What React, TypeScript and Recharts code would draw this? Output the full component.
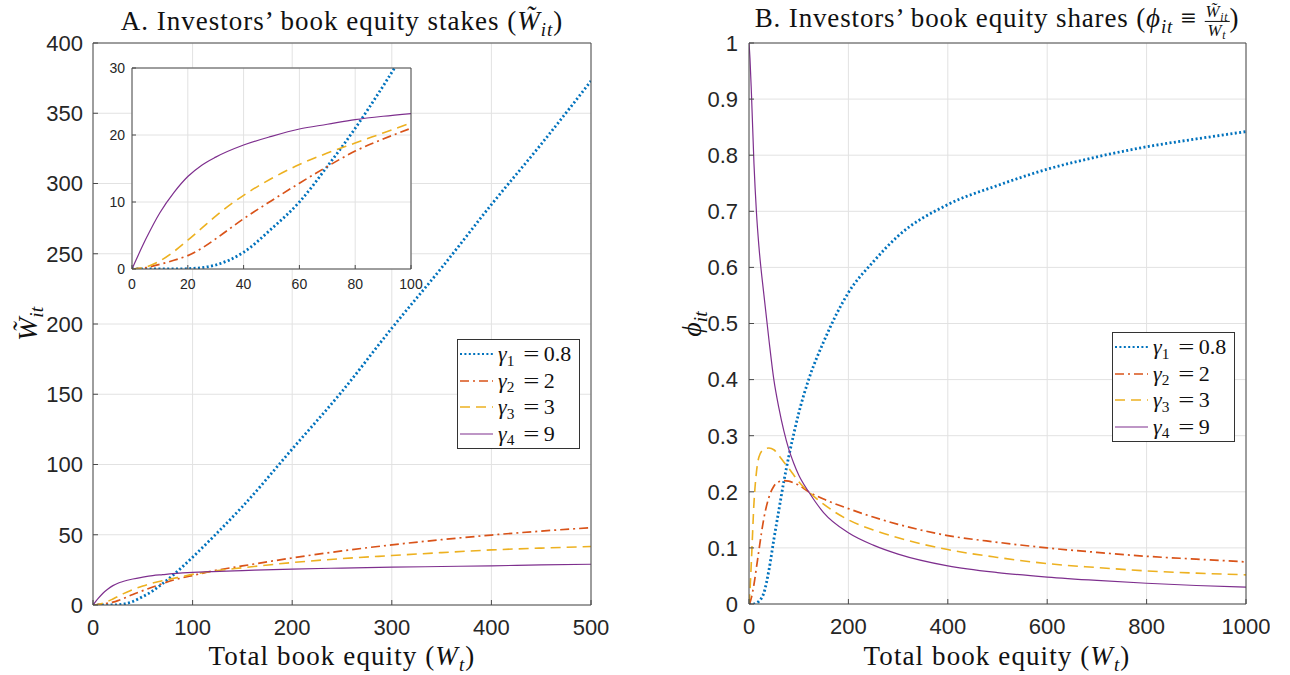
import React from "react";
import { LineChart, Line, XAxis, YAxis, CartesianGrid, Legend } from "recharts";

// Panel A: book equity stakes against total book equity (0..500)
const stakeW = [0, 5, 10, 15, 20, 25, 30, 40, 50, 60, 70, 80, 90, 100, 120, 150, 200, 250, 300, 350, 400, 450, 500];
const stakeG1 = [0, 0, 0, 0, 0.05, 0.2, 0.6, 2.5, 6, 10, 15.3, 21, 27.3, 34, 48, 70, 111, 152, 197, 240, 285, 328, 373];
const stakeG2 = [0, 0.2, 0.7, 1.3, 2, 3.1, 4.5, 7.5, 10.2, 12.8, 15.3, 17.6, 19.4, 21, 24.2, 27.8, 33.5, 38.5, 42.8, 46.5, 49.8, 52.6, 55];
const stakeG3 = [0, 0.3, 1.2, 2.6, 4.3, 6.1, 7.9, 11, 13.5, 15.6, 17.3, 18.8, 20.3, 21.8, 24, 26.5, 30.2, 33, 35.2, 37.3, 39.2, 40.5, 41.6];
const stakeG4 = [0, 4.5, 8.4, 11.4, 13.8, 15.5, 16.7, 18.5, 19.8, 20.9, 21.6, 22.3, 22.8, 23.2, 23.8, 24.5, 25.6, 26.3, 26.9, 27.4, 27.9, 28.5, 29];

// Panel B: book equity shares against total book equity (0..1000)
const shareW = [0, 2, 5, 10, 15, 20, 30, 40, 50, 60, 70, 80, 90, 100, 120, 150, 200, 250, 300, 400, 500, 600, 700, 800, 900, 1000];
const shareG1 = [0, 0, 0, 0, 0.002, 0.005, 0.02, 0.06, 0.115, 0.167, 0.218, 0.263, 0.303, 0.34, 0.4, 0.467, 0.555, 0.61, 0.656, 0.712, 0.746, 0.775, 0.797, 0.815, 0.829, 0.842];
const shareG2 = [0, 0.003, 0.012, 0.035, 0.065, 0.096, 0.153, 0.19, 0.21, 0.218, 0.22, 0.219, 0.216, 0.212, 0.2, 0.187, 0.17, 0.155, 0.142, 0.122, 0.11, 0.1, 0.092, 0.085, 0.08, 0.075];
const shareG3 = [0, 0.025, 0.08, 0.18, 0.235, 0.262, 0.276, 0.278, 0.275, 0.265, 0.253, 0.242, 0.23, 0.218, 0.2, 0.178, 0.15, 0.132, 0.118, 0.097, 0.083, 0.072, 0.065, 0.059, 0.055, 0.052];
const shareG4 = [1, 0.972, 0.908, 0.785, 0.698, 0.637, 0.551, 0.472, 0.4, 0.35, 0.309, 0.276, 0.251, 0.23, 0.2, 0.163, 0.127, 0.105, 0.089, 0.068, 0.056, 0.048, 0.042, 0.037, 0.033, 0.03];

const stakeTicksX = [0, 100, 200, 300, 400, 500];
const stakeTicksY = [0, 50, 100, 150, 200, 250, 300, 350, 400];
const insetTicksX = [0, 20, 40, 60, 80, 100];
const insetTicksY = [0, 10, 20, 30];
const shareTicksX = [0, 200, 400, 600, 800, 1000];
const shareTicksY = [0, 0.1, 0.2, 0.3, 0.4, 0.5, 0.6, 0.7, 0.8, 0.9, 1];

const gammaSubs = ["1", "2", "3", "4"];
const gammaValues = ["0.8", "2", "3", "9"];

const SERIES = [
  { key: "g1", color: "#0072BD", width: 2.8, dash: "2 2.4" },
  { key: "g2", color: "#D95319", width: 1.7, dash: "9 4 2 4" },
  { key: "g3", color: "#EDB120", width: 1.6, dash: "10 6" },
  { key: "g4", color: "#7E2F8E", width: 1.2, dash: undefined },
];

const stakeData = stakeW.map((w, i) => ({ w, g1: stakeG1[i], g2: stakeG2[i], g3: stakeG3[i], g4: stakeG4[i] }));
const insetData = stakeData.filter((d) => d.w <= 100);
const shareData = shareW.map((w, i) => ({ w, g1: shareG1[i], g2: shareG2[i], g3: shareG3[i], g4: shareG4[i] }));

const SANS = "'Liberation Sans', Arial, sans-serif";
const SERIF = "'Liberation Serif', 'Times New Roman', serif";
const AXIS = "#4a4a4a";
const GRID = "#e2e2e2";

const Sub = ({ children }: { children: React.ReactNode }) => (
  <span style={{ fontSize: "0.7em", position: "relative", top: "0.3em" }}>{children}</span>
);

const WTilde = () => (
  <>
    <i>W{"\u0303"}</i>
    <Sub><i>it</i></Sub>
  </>
);

const Txt = ({ x, y, size, rotate, spacing, children }: any) => (
  <div
    style={{
      position: "absolute",
      left: x,
      top: y,
      transform: `translate(-50%, -50%)${rotate ? " rotate(-90deg)" : ""}`,
      fontFamily: SERIF,
      fontSize: size,
      letterSpacing: spacing ?? 0,
      whiteSpace: "nowrap",
      lineHeight: 1,
      color: "#111",
    }}
  >
    {children}
  </div>
);

const LegendBox = () => (
  <div style={{ width: 121, border: "1px solid #333", background: "#fff", paddingTop: 1, paddingBottom: 1, fontFamily: SERIF, fontSize: 22, color: "#111" }}>
    {SERIES.map((s, i) => (
      <div key={s.key} style={{ display: "flex", alignItems: "center", height: 26.5 }}>
        <svg width={38} height={8} style={{ flex: "none" }}>
          <line x1={2} y1={4} x2={35} y2={4} stroke={s.color} strokeWidth={Math.min(s.width, 2.2)} strokeDasharray={s.dash} />
        </svg>
        <span style={{ marginLeft: 2, lineHeight: 1 }}>
          <i>γ</i>
          <Sub>{gammaSubs[i]}</Sub>
          <span style={{ marginLeft: 11, marginRight: 6, display: "inline-block", transform: "scaleX(1.3)" }}>=</span>
          {gammaValues[i]}
        </span>
      </div>
    ))}
  </div>
);

const tickStyle = (size: number) => ({ fill: "#262626", fontSize: size, fontFamily: SANS });

function boxAxes(ticksX: number[], ticksY: number[], domX: number[], domY: number[], opts: any) {
  const { fs, tickLen, mx, my, yw, xh } = opts;
  return [
    <XAxis key="xb" dataKey="w" type="number" domain={domX} ticks={ticksX} interval={0} allowDataOverflow
      height={xh} tickSize={-tickLen} tickMargin={mx} tick={tickStyle(fs)} stroke={AXIS} tickLine={{ stroke: AXIS }} />,
    <XAxis key="xt" xAxisId="top" orientation="top" dataKey="w" type="number" domain={domX} ticks={ticksX} interval={0} allowDataOverflow
      height={1} tickSize={-tickLen} tick={false} stroke={AXIS} tickLine={{ stroke: AXIS }} />,
    <YAxis key="yl" type="number" domain={domY} ticks={ticksY} interval={0} allowDataOverflow
      width={yw} tickSize={-tickLen} tickMargin={my} tick={tickStyle(fs)} stroke={AXIS} tickLine={{ stroke: AXIS }} />,
    <YAxis key="yr" yAxisId="right" orientation="right" type="number" domain={domY} ticks={ticksY} interval={0} allowDataOverflow
      width={1} tickSize={-tickLen} tick={false} stroke={AXIS} tickLine={{ stroke: AXIS }} />,
  ];
}

const lines = () =>
  SERIES.map((s) => (
    <Line key={s.key} type="monotone" dataKey={s.key} stroke={s.color} strokeWidth={s.width}
      strokeDasharray={s.dash} dot={false} activeDot={false} isAnimationActive={false} />
  ));

export default function App() {
  return (
    <div style={{ position: "absolute", left: 0, top: 0, width: 1290, height: 675, background: "#fff", overflow: "hidden" }}>
      {/* Panel A */}
      <div style={{ position: "absolute", left: 0, top: 0 }}>
        <LineChart width={620} height={675} data={stakeData} margin={{ top: 42, right: 28, bottom: 30, left: 0 }}>
          <CartesianGrid stroke={GRID} />
          {boxAxes(stakeTicksX, stakeTicksY, [0, 500], [0, 400], { fs: 22, tickLen: 5, mx: 19, my: 15, yw: 93, xh: 40 })}
          {lines()}
          <Legend layout="vertical" align="center" verticalAlign="middle" wrapperStyle={{ left: 457, top: 339 }} content={() => <LegendBox />} />
        </LineChart>
      </div>
      {/* Inset of panel A */}
      <div style={{ position: "absolute", left: 90, top: 50 }}>
        <LineChart width={340} height={250} data={insetData} margin={{ top: 17, right: 18, bottom: 6, left: 0 }}>
          <CartesianGrid stroke={GRID} fill="#fff" fillOpacity={1} />
          {boxAxes(insetTicksX, insetTicksY, [0, 100], [0, 30], { fs: 14, tickLen: 4, mx: 14, my: 11, yw: 42, xh: 25 })}
          {lines()}
        </LineChart>
      </div>
      {/* Panel B */}
      <div style={{ position: "absolute", left: 650, top: 0 }}>
        <LineChart width={620} height={675} data={shareData} margin={{ top: 42, right: 23, bottom: 31, left: 0 }}>
          <CartesianGrid stroke={GRID} />
          {boxAxes(shareTicksX, shareTicksY, [0, 1000], [0, 1], { fs: 22, tickLen: 5, mx: 19, my: 16, yw: 99, xh: 40 })}
          {lines()}
          <Legend layout="vertical" align="center" verticalAlign="middle" wrapperStyle={{ left: 462, top: 332 }} content={() => <LegendBox />} />
        </LineChart>
      </div>

      <Txt x={342} y={21} size={27} spacing={1}>
        A. Investors’ book equity stakes (<WTilde />)
      </Txt>
      <Txt x={997} y={21} size={27} spacing={0.85}>
        B. Investors’ book equity shares (<i>ϕ</i><Sub><i>it</i></Sub> ≡{" "}
        <span style={{ display: "inline-flex", flexDirection: "column", alignItems: "center", verticalAlign: "middle", fontSize: "0.62em", lineHeight: 1.05 }}>
          <span style={{ borderBottom: "1px solid #111", padding: "0 1px" }}><WTilde /></span>
          <span><i>W</i><Sub><i>t</i></Sub></span>
        </span>
        )
      </Txt>
      <Txt x={342} y={656} size={27} spacing={1.1}>
        Total book equity (<i>W</i><Sub><i>t</i></Sub>)
      </Txt>
      <Txt x={997} y={656} size={27} spacing={1.1}>
        Total book equity (<i>W</i><Sub><i>t</i></Sub>)
      </Txt>
      <Txt x={28} y={324} size={28} rotate>
        <WTilde />
      </Txt>
      <Txt x={692} y={324} size={28} rotate>
        <i>ϕ</i><Sub><i>it</i></Sub>
      </Txt>
    </div>
  );
}
